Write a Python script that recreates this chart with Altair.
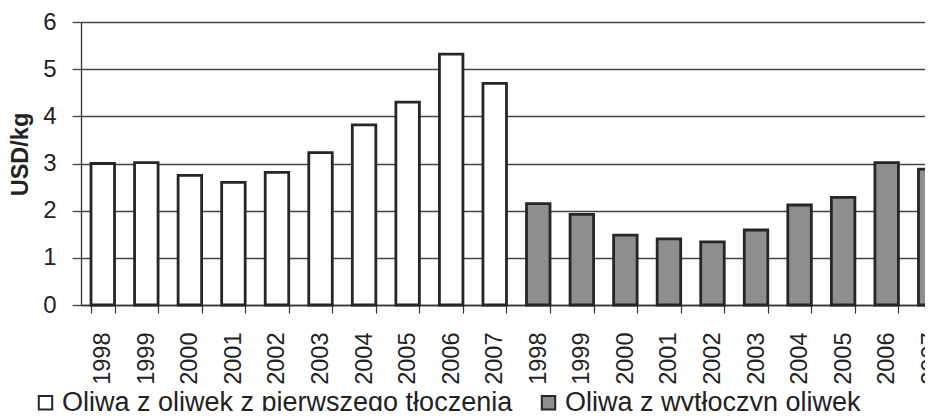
import altair as alt
import pandas as pd

years = ["1998", "1999", "2000", "2001", "2002", "2003", "2004", "2005", "2006", "2007"]
series_names = ["Oliwa z oliwek z pierwszego tłoczenia", "Oliwa z wytłoczyn oliwek"]
virgin = [3.0, 3.02, 2.75, 2.6, 2.81, 3.23, 3.82, 4.3, 5.32, 4.7]
pomace = [2.15, 1.92, 1.48, 1.4, 1.34, 1.59, 2.12, 2.28, 3.02, 2.88]
fills = ["#ffffff", "#8e8e8e"]

rows = []
for s, vals in zip(series_names, [virgin, pomace]):
    for y, v in zip(years, vals):
        rows.append({"slot": f"{s}|{y}", "year": y, "series": s, "value": v})
df = pd.DataFrame(rows)

FONT = "Liberation Sans"
DARK = "#262626"

chart = alt.Chart(df).mark_bar(stroke=DARK, strokeWidth=2.8).encode(
    x=alt.X(
        "slot:N",
        sort=None,
        scale=alt.Scale(paddingInner=0.46, paddingOuter=0.23, range=[0, 871]),
        axis=alt.Axis(
            title=None,
            labelExpr="split(datum.label, '|')[1]",
            labelAngle=-90,
            labelFont=FONT,
            labelFontSize=23.5,
            labelColor="#222",
            labelPadding=19,
            tickBand="extent",
            tickSize=8,
            tickColor="#333",
            tickWidth=1.2,
            domainColor="#333",
            domainWidth=1.3,
            grid=False,
            labelOverlap=False,
        ),
    ),
    y=alt.Y(
        "value:Q",
        scale=alt.Scale(domain=[0, 6], nice=False),
        axis=alt.Axis(
            title="USD/kg",
            titleFont=FONT,
            titleFontSize=23.5,
            titleFontWeight="bold",
            titleColor="#222",
            titleAngle=-90,
            titleAlign="center",
            titleBaseline="alphabetic",
            titleX=-54,
            titleY=132,
            values=[0, 1, 2, 3, 4, 5, 6],
            labelFont=FONT,
            labelFontSize=24,
            labelColor="#222",
            labelPadding=16,
            tickSize=9,
            tickColor="#444",
            tickWidth=1.3,
            domainColor="#333",
            domainWidth=1.3,
            grid=True,
            gridColor="#444",
            gridWidth=1.3,
        ),
    ),
    fill=alt.Fill(
        "series:N",
        sort=series_names,
        scale=alt.Scale(domain=series_names, range=fills),
        legend=alt.Legend(
            title=None,
            orient="none",
            direction="horizontal",
            legendX=-49,
            legendY=367,
            symbolType="square",
            symbolSize=180,
            symbolStrokeColor=DARK,
            symbolStrokeWidth=2,
            symbolOpacity=1,
            labelFont=FONT,
            labelFontSize=27,
            labelColor="#222",
            labelOffset=3,
            columnPadding=22,
            labelLimit=0,
        ),
    ),
).properties(
    width=844,
    height=283,
    autosize=alt.AutoSizeParams(type="none"),
    padding={"left": 73, "top": 14, "right": 0, "bottom": 106},
).configure_view(stroke=None).configure(background="white")

chart.save("out.html", embed_options={"renderer": "svg", "actions": False})
